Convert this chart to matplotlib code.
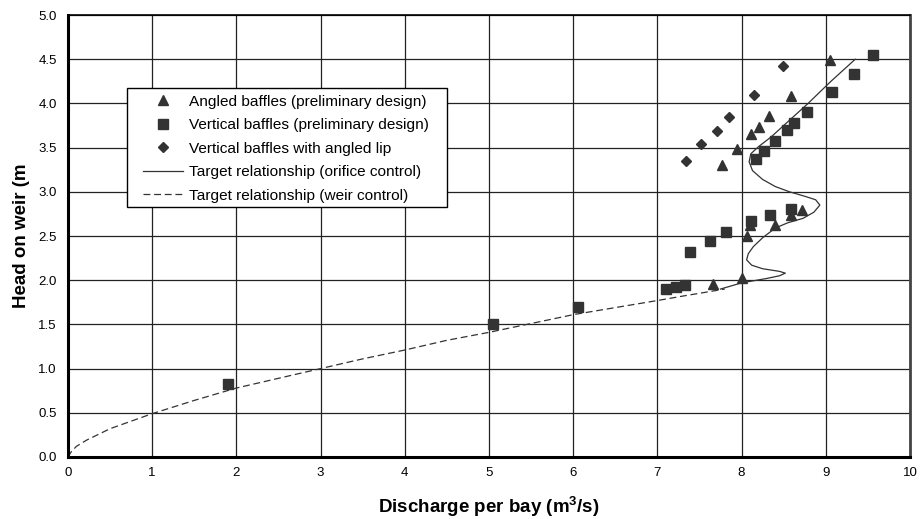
import matplotlib
matplotlib.use("Agg")
import matplotlib.pyplot as plt
from matplotlib.patches import Rectangle

plt.rcParams['font.family'] = ['Liberation Sans', 'DejaVu Sans']
plt.rcParams['mathtext.fontset'] = 'custom'
plt.rcParams['mathtext.bf'] = 'Liberation Sans:bold'
plt.rcParams['mathtext.rm'] = 'Liberation Sans'

# angled baffles (preliminary design)
ang_x = [7.66, 8.01, 8.07, 8.10, 8.40, 8.59, 8.72, 7.77, 7.94, 8.11, 8.21, 8.33, 8.59, 9.05]
ang_y = [1.96, 2.02, 2.50, 2.63, 2.63, 2.74, 2.79, 3.30, 3.49, 3.65, 3.73, 3.86, 4.08, 4.49]

# vertical baffles (preliminary design)
vert_x = [1.90, 5.05, 6.06, 7.10, 7.22, 7.33, 7.39, 7.62, 7.81, 8.11, 8.34, 8.59,
          8.17, 8.27, 8.40, 8.54, 8.62, 8.78, 9.08, 9.34, 9.56]
vert_y = [0.83, 1.50, 1.70, 1.90, 1.92, 1.95, 2.32, 2.44, 2.54, 2.67, 2.74, 2.81,
          3.37, 3.46, 3.57, 3.70, 3.78, 3.90, 4.13, 4.33, 4.55]

# vertical baffles with angled lip
lip_x = [7.34, 7.52, 7.71, 7.85, 8.15, 8.49]
lip_y = [3.35, 3.54, 3.69, 3.85, 4.10, 4.42]

# target relationship (orifice control)
ori_x = [7.75, 8.00, 8.30, 8.45, 8.52, 8.45, 8.25, 8.12, 8.06, 8.08, 8.14, 8.25, 8.40,
         8.55, 8.73, 8.86, 8.93, 8.88, 8.75, 8.57, 8.40, 8.25, 8.13, 8.09, 8.11, 8.20,
         8.35, 8.50, 8.79, 9.05, 9.35]
ori_y = [1.90, 1.97, 2.02, 2.05, 2.08, 2.10, 2.13, 2.17, 2.23, 2.30, 2.38, 2.48, 2.59,
         2.65, 2.70, 2.77, 2.85, 2.91, 2.95, 3.00, 3.06, 3.14, 3.24, 3.34, 3.43, 3.51,
         3.62, 3.75, 4.00, 4.24, 4.50]

# target relationship (weir control)
weir_x = [0.0, 0.04, 0.1, 0.22, 0.5, 1.0, 1.5, 2.0, 2.5, 3.0, 3.5, 4.0, 4.5, 5.0, 5.5,
          6.0, 6.5, 7.0, 7.3, 7.8]
weir_y = [0.0, 0.06, 0.12, 0.19, 0.32, 0.49, 0.64, 0.78, 0.89, 1.0, 1.11, 1.21, 1.32,
          1.41, 1.51, 1.61, 1.69, 1.77, 1.82, 1.90]

c = '#333333'
fig = plt.figure(figsize=(9.21, 5.19), dpi=100)
ax = fig.add_axes([0.0738, 0.1195, 0.9142, 0.8515])

ax.plot(ang_x, ang_y, ls='none', marker='^', ms=7.8, color=c, mec=c,
        label='Angled baffles (preliminary design)', zorder=3)
ax.plot(vert_x, vert_y, ls='none', marker='s', ms=6.5, color=c, mec=c,
        label='Vertical baffles (preliminary design)', zorder=3)
ax.plot(lip_x, lip_y, ls='none', marker='D', ms=4.8, color=c, mec=c,
        label='Vertical baffles with angled lip', zorder=3)
ax.plot(ori_x, ori_y, '-', color=c, lw=0.9,
        label='Target relationship (orifice control)', zorder=2)
ax.plot(weir_x, weir_y, '--', color=c, lw=0.9, dashes=(5.5, 3),
        label='Target relationship (weir control)', zorder=2)

ax.set_xlim(0, 10)
ax.set_ylim(0, 5)
ax.set_xticks(range(0, 11))
ax.set_yticks([i * 0.5 for i in range(11)])
ax.set_yticklabels([f'{i * 0.5:.1f}' for i in range(11)])
ax.grid(True, color='#222222', lw=0.9)
ax.set_axisbelow(True)
ax.tick_params(length=0, labelsize=9.5)
ax.tick_params(axis='x', pad=7)
ax.tick_params(axis='y', pad=8)

for s in ['left', 'bottom']:
    ax.spines[s].set_linewidth(2.2)
    ax.spines[s].set_color('black')
ax.spines['top'].set_linewidth(1.2)
ax.spines['right'].set_linewidth(2)
ax.spines['right'].set_color('#444444')

ax.set_xlabel(r'Discharge per bay (m$^{\bf 3}$/s)', fontsize=13.5, fontweight='bold', labelpad=11)
ax.set_ylabel('Head on weir (m', fontsize=13.5, fontweight='bold', labelpad=6)

# legend frame drawn by hand so the inner padding matches
ax.add_patch(Rectangle((0.070, 0.566), 0.380, 0.269, transform=ax.transAxes,
                       facecolor='white', edgecolor='black', lw=1.0, zorder=4))
leg = ax.legend(loc='upper left', bbox_to_anchor=(0.089, 0.820), borderaxespad=0,
                fontsize=11.1, frameon=False, handlelength=2.6, handletextpad=0.4,
                labelspacing=0.62, borderpad=0)
leg.set_zorder(5)

fig.savefig('out.png', dpi=100)
